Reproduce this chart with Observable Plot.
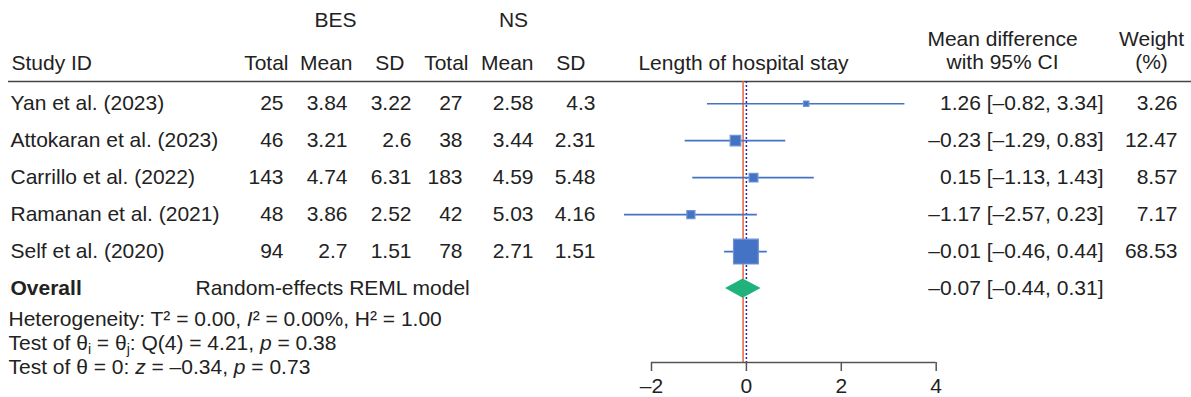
<!DOCTYPE html>
<html><head><meta charset="utf-8">
<script src="https://cdn.jsdelivr.net/npm/d3@7"></script>
<script src="https://cdn.jsdelivr.net/npm/@observablehq/plot@0.6"></script>
<style>body{margin:0;background:#fff}</style>
</head><body><div id="chart"></div>
<script>
// ---- data ----
const studies = ["Yan et al. (2023)", "Attokaran et al. (2023)", "Carrillo et al. (2022)", "Ramanan et al. (2021)", "Self et al. (2020)"];
const besTotal = [25, 46, 143, 48, 94];
const besMean = [3.84, 3.21, 4.74, 3.86, 2.7];
const besSD = [3.22, 2.6, 6.31, 2.52, 1.51];
const nsTotal = [27, 38, 183, 42, 78];
const nsMean = [2.58, 3.44, 4.59, 5.03, 2.71];
const nsSD = [4.3, 2.31, 5.48, 4.16, 1.51];
const meanDiff = [1.26, -0.23, 0.15, -1.17, -0.01];
const ciLow = [-0.82, -1.29, -1.13, -2.57, -0.46];
const ciHigh = [3.34, 0.83, 1.43, 0.23, 0.44];
const weights = [3.26, 12.47, 8.57, 7.17, 68.53];
const overallLabel = "Overall";
const overallModel = "Random-effects REML model";
const overallMD = -0.07, overallLow = -0.44, overallHigh = 0.31;
const xTicks = [-2, 0, 2, 4];
const groupLabels = ["BES", "NS"];
const colHeaders = ["Total", "Mean", "SD", "Total", "Mean", "SD"];
const plotTitle = "Length of hospital stay";
const footerSegments = [
  [["Heterogeneity: T² = 0.00, "], ["I", "it"], ["² = 0.00%, H² = 1.00"]],
  [["Test of θ"], ["i", "sub"], [" = θ"], ["j", "sub"], [": Q(4) = 4.21, "], ["p", "it"], [" = 0.38"]],
  [["Test of θ = 0: "], ["z", "it"], [" = –0.34, "], ["p", "it"], [" = 0.73"]]
];

// ---- helpers ----
const dash = s => String(s).replace("-", "–");
const f2 = v => (v < 0 ? "–" : "") + Math.abs(v).toFixed(2);
const rows = studies.map((s, i) => ({
  study: s, row: i + 1,
  t1: String(besTotal[i]), m1: dash(besMean[i]), s1: dash(besSD[i]),
  t2: String(nsTotal[i]), m2: dash(nsMean[i]), s2: dash(nsSD[i]),
  md: meanDiff[i], lo: ciLow[i], hi: ciHigh[i], w: weights[i],
  ci: `${f2(meanDiff[i])} [${f2(ciLow[i])}, ${f2(ciHigh[i])}]`,
  wt: weights[i].toFixed(2)
}));
const overallRow = studies.length + 1;
const axisRow = overallRow + 2;
const headerRow = 0.4;
const diamondHalf = 0.26;
const diamond = [
  {y: overallRow - diamondHalf, x1: overallMD, x2: overallMD},
  {y: overallRow, x1: overallLow, x2: overallHigh},
  {y: overallRow + diamondHalf, x1: overallMD, x2: overallMD}
];
const footerLines = footerSegments.map(seg => seg.map(s => s[0]).join(""));

const ML = 8, MT = 81, MB = 35;
const W = 1191, H = 397;
const ink = "#222";
const blue = "#4472c4";

const col = (field, right) => Plot.text(rows, {y: "row", text: field, frameAnchor: "left", textAnchor: "end", lineAnchor: "middle", dx: right - ML});
const hdr = (label, x, y, anchor) => Plot.text([label], {frameAnchor: "top-left", lineAnchor: "middle", dx: x - ML, dy: y - MT, textAnchor: anchor});

const chart = Plot.plot({
  width: W, height: H,
  marginLeft: ML, marginRight: 0, marginTop: MT, marginBottom: MB,
  style: {fontFamily: "'Liberation Sans', Arial, sans-serif", fontSize: "21px", color: ink, background: "#fff"},
  x: {domain: [xTicks[0], xTicks[xTicks.length - 1]], range: [651, 935.7], axis: null},
  y: {domain: [headerRow, axisRow], reverse: true, axis: null},
  r: {range: [0, 14]},
  marks: [
    // header rule
    Plot.ruleY([headerRow], {stroke: "#444", strokeWidth: 1.6}),
    // reference lines
    Plot.ruleX([overallMD], {stroke: "#e3643f", strokeWidth: 1.5}),
    Plot.ruleX([0], {stroke: "#2424a8", strokeWidth: 1.5, strokeDasharray: "2,2"}),
    // CIs and squares
    Plot.ruleY(rows, {y: "row", x1: "lo", x2: "hi", stroke: blue, strokeWidth: 1.6}),
    Plot.dot(rows, {x: "md", y: "row", r: "w", symbol: "square", fill: blue, stroke: "#6f93d3", strokeWidth: 1.2}),
    // overall diamond
    Plot.areaX(diamond, {y: "y", x1: "x1", x2: "x2", fill: "#20b27b", curve: "linear"}),
    // axis
    Plot.ruleY([axisRow], {x1: xTicks[0], x2: xTicks[xTicks.length - 1], stroke: "#555", strokeWidth: 1.5}),
    Plot.axisX({ticks: xTicks, anchor: "bottom", tickSize: 9, tickPadding: 7, stroke: "#555", strokeWidth: 1.5, fill: ink,
      tickFormat: d => d < 0 ? "–" + (-d) : String(d)}),
    // table columns
    Plot.text(rows, {y: "row", text: "study", frameAnchor: "left", textAnchor: "start", lineAnchor: "middle", dx: 10 - ML}),
    col("t1", 283), col("m1", 347), col("s1", 411),
    col("t2", 462), col("m2", 533), col("s2", 595),
    col("ci", 1103), col("wt", 1177),
    // overall row
    Plot.text([overallLabel], {y: overallRow, frameAnchor: "left", textAnchor: "start", lineAnchor: "middle", dx: 10 - ML, fontWeight: "bold"}),
    Plot.text([overallModel], {y: overallRow, frameAnchor: "left", textAnchor: "start", lineAnchor: "middle", dx: 195 - ML}),
    Plot.text([`${f2(overallMD)} [${f2(overallLow)}, ${f2(overallHigh)}]`], {y: overallRow, frameAnchor: "left", textAnchor: "end", lineAnchor: "middle", dx: 1103 - ML}),
    // headers
    hdr(groupLabels[0], 335, 20, "middle"),
    hdr(groupLabels[1], 513, 20, "middle"),
    hdr("Study ID", 11, 63, "start"),
    hdr(colHeaders[0], 288, 63, "end"),
    hdr(colHeaders[1], 352, 63, "end"),
    hdr(colHeaders[2], 404, 63, "end"),
    hdr(colHeaders[3], 468, 63, "end"),
    hdr(colHeaders[4], 533, 63, "end"),
    hdr(colHeaders[5], 585, 63, "end"),
    hdr(plotTitle, 743, 63, "middle"),
    hdr("Mean difference", 1002, 39, "middle"),
    hdr("with 95% CI", 1002, 62, "middle"),
    hdr("Weight", 1151, 39, "middle"),
    hdr("(%)", 1151, 62, "middle"),
    // footer
    ...footerLines.map((t, i) => Plot.text([t], {frameAnchor: "bottom-left", textAnchor: "start", lineAnchor: "middle", dx: 0, dy: [-43, -19, 5][i]}))
  ]
});

// rich text styling for footer (italics and subscripts)
chart.querySelectorAll("text").forEach(el => {
  const k = footerLines.indexOf(el.textContent);
  if (k < 0) return;
  while (el.firstChild) el.removeChild(el.firstChild);
  let shifted = false;
  for (const [t, st] of footerSegments[k]) {
    const ts = document.createElementNS("http://www.w3.org/2000/svg", "tspan");
    ts.textContent = t;
    if (st === "it") ts.setAttribute("font-style", "italic");
    if (st === "sub") { ts.setAttribute("font-size", "14px"); ts.setAttribute("dy", "4"); shifted = true; }
    else if (shifted) { ts.setAttribute("dy", "-4"); shifted = false; }
    el.appendChild(ts);
  }
});

document.getElementById("chart").appendChild(chart);
</script>
</body></html>
